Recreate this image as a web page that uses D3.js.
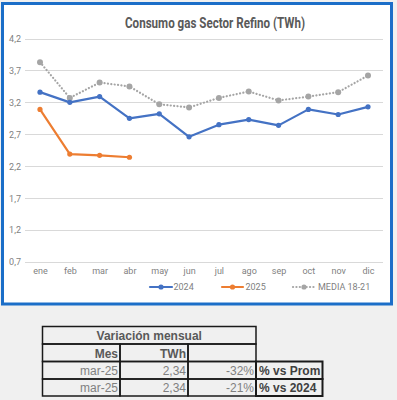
<!DOCTYPE html>
<html><head><meta charset="utf-8">
<script src="https://cdn.jsdelivr.net/npm/d3@7"></script>
<style>
html,body{margin:0;padding:0;background:#f0f0f0;}
svg{display:block;}
</style></head>
<body>
<svg id="c" width="397" height="400"></svg>
<script>
const months = ["ene","feb","mar","abr","may","jun","jul","ago","sep","oct","nov","dic"];
const s2024 = [3.36,3.20,3.29,2.95,3.02,2.66,2.85,2.93,2.84,3.09,3.01,3.13];
const s2025 = [3.09,2.39,2.37,2.34];
const sMedia = [3.83,3.27,3.51,3.45,3.17,3.12,3.27,3.37,3.23,3.29,3.36,3.62];
const yTicks = [0.7,1.2,1.7,2.2,2.7,3.2,3.7,4.2];
const seriesNames = ["2024","2025","MEDIA 18-21"];
const tableHeader = "Variación mensual";
const tableCols = ["Mes","TWh",""];
const tableRows = [["mar-25","2,34","-32%","% vs Prom"],["mar-25","2,34","-21%","% vs 2024"]];

const svg = d3.select("#c");
// chart box
svg.append("rect").attr("x",2.5).attr("y",3.5).attr("width",389).attr("height",300.5)
  .attr("fill","#ffffff").attr("stroke","#1b6ec8").attr("stroke-width",3);

svg.append("text").attr("x",215).attr("y",28).attr("text-anchor","middle")
  .attr("font-family","Roboto, 'Liberation Sans', sans-serif").attr("font-weight","bold")
  .attr("font-size",14).attr("fill","#595959")
  .attr("textLength",180).attr("lengthAdjust","spacingAndGlyphs")
  .text("Consumo gas Sector Refino (TWh)");

const x = d3.scalePoint().domain(months).range([40,368]);
const y = d3.scaleLinear().domain([0.7,4.2]).range([262,38.5]);

const g = svg.append("g");
// gridlines
g.selectAll("line.grid").data(yTicks).join("line").attr("class","grid")
  .attr("x1",25).attr("x2",383).attr("y1",d=>Math.round(y(d))+0.5).attr("y2",d=>Math.round(y(d))+0.5)
  .attr("stroke","#d9d9d9").attr("stroke-width",1);

const yAxis = svg.append("g").attr("transform","translate(21,0)")
  .call(d3.axisLeft(y).tickValues(yTicks).tickSize(0).tickPadding(0)
    .tickFormat(d=>d3.format(".1f")(d).replace(".",",")));
yAxis.select(".domain").remove();
yAxis.selectAll("text").attr("font-family","Roboto, sans-serif").attr("font-size",9).attr("fill","#7f7f7f");

const xAxis = svg.append("g").attr("transform","translate(0,268)")
  .call(d3.axisBottom(x).tickSize(0).tickPadding(0));
xAxis.select(".domain").remove();
xAxis.selectAll("text").attr("font-family","Roboto, sans-serif").attr("font-size",9).attr("fill","#7f7f7f");

const line = d3.line().x((d,i)=>x(months[i])).y(d=>y(d));

function drawSeries(data,color,dash,r,w){
  g.append("path").datum(data).attr("d",line).attr("fill","none")
    .attr("stroke",color).attr("stroke-width",w).attr("stroke-linejoin","round")
    .attr("stroke-linecap","round").attr("stroke-dasharray",dash);
  g.selectAll(null).data(data).join("circle")
    .attr("cx",(d,i)=>x(months[i])).attr("cy",d=>y(d)).attr("r",r).attr("fill",color);
}
drawSeries(sMedia,"#a5a5a5","0.1 3.3",3,2.2);
drawSeries(s2024,"#4472c4",null,2.6,2.2);
drawSeries(s2025,"#ed7d31",null,2.6,2.2);

// legend
const leg = [
  {name:seriesNames[0],color:"#4472c4",x1:150,x2:172,tx:173.5,dash:null},
  {name:seriesNames[1],color:"#ed7d31",x1:222,x2:243,tx:245.5,dash:null},
  {name:seriesNames[2],color:"#a5a5a5",x1:293,x2:315,tx:318,dash:"0.1 3.3"}
];
const ly = 287;
leg.forEach(l=>{
  svg.append("line").attr("x1",l.x1).attr("x2",l.x2).attr("y1",ly).attr("y2",ly)
    .attr("stroke",l.color).attr("stroke-width",2.2).attr("stroke-linecap","round").attr("stroke-dasharray",l.dash);
  svg.append("circle").attr("cx",(l.x1+l.x2)/2).attr("cy",ly).attr("r",2.6).attr("fill",l.color);
  svg.append("text").attr("x",l.tx).attr("y",ly+3.2).attr("font-family","Roboto, sans-serif")
    .attr("font-size",9).attr("fill","#7f7f7f").text(l.name);
});

// table
const colX = [42.5,120,188,256,322.5];
const rowY = [326.5,344,361.5,379,396];
const tf = "'Liberation Sans', Arial, sans-serif";
const tg = svg.append("g");
const cellLine = (x1,y1,x2,y2,w,c)=>tg.append("line").attr("x1",x1).attr("y1",y1).attr("x2",x2).attr("y2",y2)
  .attr("stroke",c||"#1a1a1a").attr("stroke-width",w||1.5);
// header box
tg.append("rect").attr("x",colX[0]).attr("y",rowY[0]).attr("width",colX[3]-colX[0]).attr("height",rowY[1]-rowY[0])
  .attr("fill","none").attr("stroke","#1a1a1a").attr("stroke-width",1.5);
// row 2 cells
for(let i=0;i<3;i++){
  tg.append("rect").attr("x",colX[i]).attr("y",rowY[1]).attr("width",colX[i+1]-colX[i]).attr("height",rowY[2]-rowY[1])
    .attr("fill","none").attr("stroke","#1a1a1a").attr("stroke-width",1.5);
}
// data rows
for(let r=0;r<2;r++){
  for(let i=0;i<4;i++){
    tg.append("rect").attr("x",colX[i]).attr("y",rowY[2+r]).attr("width",colX[i+1]-colX[i]).attr("height",rowY[3+r]-rowY[2+r])
      .attr("fill","none").attr("stroke","#1a1a1a").attr("stroke-width",i===3?2:1.5);
  }
}
tg.append("text").attr("x",(colX[0]+colX[3])/2).attr("y",rowY[1]-4).attr("text-anchor","middle")
  .attr("font-family",tf).attr("font-weight","bold").attr("font-size",12).attr("fill","#595959").text(tableHeader);
tableCols.forEach((c,i)=>{
  tg.append("text").attr("x",colX[i+1]-2).attr("y",rowY[2]-4).attr("text-anchor","end")
    .attr("font-family",tf).attr("font-weight","bold").attr("font-size",12).attr("fill","#595959").text(c);
});
tableRows.forEach((row,r)=>{
  row.forEach((v,i)=>{
    const last = i===3;
    tg.append("text").attr("x",last?colX[3]+3:colX[i+1]-2).attr("y",rowY[3+r]-4)
      .attr("text-anchor",last?"start":"end").attr("font-family",tf)
      .attr("font-weight",last?"bold":"normal").attr("font-size",12)
      .attr("fill",last?"#404040":"#808080").text(v);
  });
});
</script>
</body></html>
